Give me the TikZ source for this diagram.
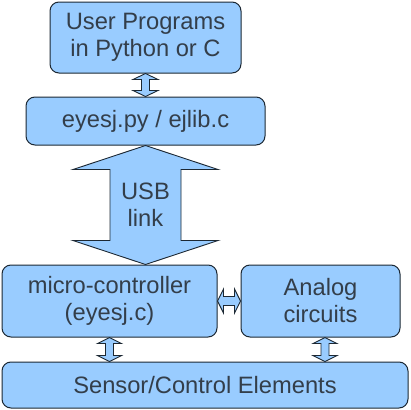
\documentclass[tikz,border=0pt]{standalone}
\usepackage{fontspec}
\setmainfont{Liberation Sans}
\usetikzlibrary{calc}
\definecolor{boxfill}{HTML}{99CCFF}
\definecolor{boxline}{HTML}{1C2833}
\definecolor{txt}{HTML}{333E4A}
\tikzset{
  blk/.style={draw=boxline, fill=boxfill, line width=1pt, rounded corners=9pt,
    text=txt, align=center, font=\fontsize{23.7}{27}\selectfont, inner sep=0pt},
  arr/.style={draw=boxline, fill=boxfill, line width=0.9pt, line join=miter}
}
\newcommand\vdarrow[5]{%
  \draw[arr] (#1) -- ($(#1)+(#3,#5)$) -- ($(#1)+(#4,#5)$) -- ($(#2)+(#4,-#5)$)
    -- ($(#2)+(#3,-#5)$) -- (#2) -- ($(#2)+(-#3,-#5)$) -- ($(#2)+(-#4,-#5)$)
    -- ($(#1)+(-#4,#5)$) -- ($(#1)+(-#3,#5)$) -- cycle;}
\newcommand\hdarrow[5]{%
  \draw[arr] (#1) -- ($(#1)+(#5,#3)$) -- ($(#1)+(#5,#4)$) -- ($(#2)+(-#5,#4)$)
    -- ($(#2)+(-#5,#3)$) -- (#2) -- ($(#2)+(-#5,-#3)$) -- ($(#2)+(-#5,-#4)$)
    -- ($(#1)+(#5,-#4)$) -- ($(#1)+(#5,-#3)$) -- cycle;}
\begin{document}
\begin{tikzpicture}[x=1pt,y=-1pt]
\useasboundingbox (0,0) rectangle (410,410);
\node[blk, minimum width=191pt, minimum height=71pt] (u) at (145.5,37.5) {User Programs\\in Python or C};
\node[blk, minimum width=239pt, minimum height=48pt] (e) at (145.5,121) {eyesj.py / ejlib.c};
\node[blk, minimum width=215pt, minimum height=72pt] (m) at (109.5,301) {micro-controller\\(eyesj.c)};
\node[blk, minimum width=159pt, minimum height=72pt] (a) at (320.5,301) {Analog\\circuits};
\node[blk, minimum width=406pt, minimum height=46pt] (s) at (205,385) {Sensor/Control Elements};
% arrows
\vdarrow{u.south}{e.north}{12.5}{4}{6}
\coordinate (usbb) at (e.south |- m.north);
\vdarrow{e.south}{usbb}{72.5}{35.5}{24}
\node[text=txt, align=center, font=\fontsize{23.7}{27}\selectfont, inner sep=0pt] (usb) at (145.5,205) {USB\\link};
\hdarrow{m.east}{a.west}{12}{4.5}{6}
\coordinate (b1) at (m.south |- s.north);
\vdarrow{m.south}{b1}{12}{4}{6}
\coordinate (a2) at ($(a.south)+(4.5,0)$);
\coordinate (b2) at (a2 |- s.north);
\vdarrow{a2}{b2}{12}{4}{6}
\end{tikzpicture}
\end{document}
